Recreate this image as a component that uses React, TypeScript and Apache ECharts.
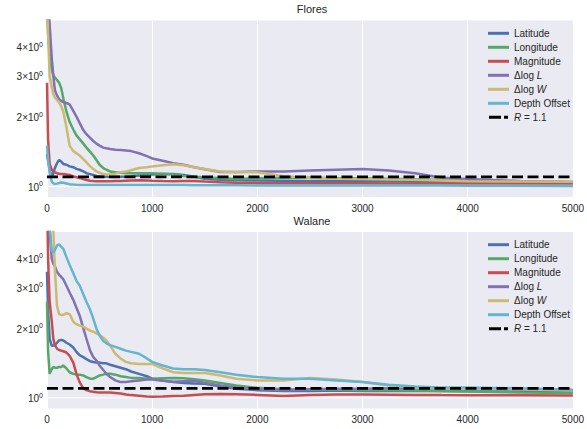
import React, { useEffect, useRef } from 'react';
import * as echarts from 'echarts';

// iteration steps (x)
const steps = [0, 10, 25, 45, 60, 75, 95, 115, 135, 155, 185, 215, 250, 280, 310, 345, 375, 410, 440, 470, 500, 535, 565, 600, 650, 700, 750, 800, 875, 950, 1000, 1100, 1200, 1300, 1400, 1500, 1650, 1800, 2000, 2250, 2500, 2750, 3000, 3250, 3500, 3750, 4000, 4500, 5000];

// Flores panel (R statistic)
const floresLatitude = [1.38, 1.3, 1.18, 1.09, 1.14, 1.2, 1.26, 1.3, 1.28, 1.25, 1.24, 1.22, 1.21, 1.19, 1.18, 1.16, 1.14, 1.13, 1.12, 1.11, 1.105, 1.1, 1.1, 1.1, 1.1, 1.1, 1.1, 1.105, 1.115, 1.12, 1.125, 1.13, 1.13, 1.12, 1.1, 1.08, 1.068, 1.062, 1.06, 1.058, 1.056, 1.055, 1.054, 1.052, 1.05, 1.049, 1.048, 1.046, 1.045];
const floresLongitude = [6, 4.6, 3.7, 3.2, 3.02, 2.95, 2.88, 2.8, 2.66, 2.4, 2.1, 1.9, 1.76, 1.66, 1.6, 1.53, 1.47, 1.41, 1.36, 1.3, 1.24, 1.2, 1.18, 1.16, 1.15, 1.145, 1.14, 1.14, 1.14, 1.14, 1.14, 1.135, 1.125, 1.11, 1.1, 1.095, 1.085, 1.075, 1.085, 1.09, 1.09, 1.085, 1.085, 1.08, 1.074, 1.065, 1.055, 1.048, 1.043];
const floresMagnitude = [2.8, 1.6, 1.25, 1.18, 1.16, 1.15, 1.14, 1.135, 1.13, 1.13, 1.125, 1.12, 1.105, 1.095, 1.088, 1.075, 1.065, 1.058, 1.054, 1.052, 1.052, 1.052, 1.052, 1.052, 1.054, 1.056, 1.058, 1.06, 1.062, 1.06, 1.058, 1.055, 1.053, 1.055, 1.056, 1.05, 1.042, 1.036, 1.033, 1.032, 1.032, 1.031, 1.031, 1.03, 1.03, 1.03, 1.03, 1.03, 1.03];
const floresDeltaLogL = [8, 6.5, 5.0, 3.6, 3.0, 2.6, 2.47, 2.38, 2.34, 2.31, 2.29, 2.26, 2.12, 2.0, 1.88, 1.75, 1.68, 1.62, 1.57, 1.53, 1.5, 1.47, 1.46, 1.45, 1.44, 1.435, 1.43, 1.42, 1.39, 1.35, 1.32, 1.29, 1.26, 1.24, 1.21, 1.185, 1.155, 1.155, 1.16, 1.16, 1.17, 1.18, 1.19, 1.17, 1.14, 1.09, 1.075, 1.055, 1.043];
const floresDeltaLogW = [7, 4.5, 3.0, 2.7, 2.5, 2.42, 2.36, 2.3, 2.22, 2.1, 1.8, 1.5, 1.42, 1.39, 1.36, 1.31, 1.27, 1.22, 1.19, 1.16, 1.145, 1.13, 1.125, 1.125, 1.135, 1.15, 1.16, 1.175, 1.2, 1.21, 1.22, 1.235, 1.245, 1.235, 1.21, 1.19, 1.16, 1.15, 1.15, 1.105, 1.09, 1.08, 1.076, 1.072, 1.068, 1.06, 1.052, 1.05, 1.048];
const floresDepthOffset = [1.5, 1.3, 1.15, 1.05, 1.03, 1.025, 1.028, 1.035, 1.04, 1.038, 1.03, 1.022, 1.018, 1.016, 1.015, 1.015, 1.015, 1.015, 1.015, 1.015, 1.015, 1.015, 1.015, 1.015, 1.015, 1.015, 1.015, 1.015, 1.015, 1.015, 1.014, 1.014, 1.013, 1.013, 1.012, 1.012, 1.011, 1.011, 1.01, 1.01, 1.01, 1.009, 1.009, 1.008, 1.008, 1.008, 1.007, 1.006, 1.005];

// Walane panel
const walaneLatitude = [3.5, 2.4, 1.8, 1.68, 1.68, 1.69, 1.73, 1.77, 1.78, 1.77, 1.73, 1.7, 1.65, 1.58, 1.53, 1.5, 1.47, 1.44, 1.43, 1.42, 1.42, 1.41, 1.41, 1.39, 1.37, 1.35, 1.33, 1.3, 1.27, 1.24, 1.21, 1.19, 1.17, 1.16, 1.155, 1.15, 1.12, 1.095, 1.08, 1.07, 1.07, 1.075, 1.07, 1.07, 1.07, 1.07, 1.068, 1.066, 1.065];
const walaneLongitude = [2.6, 1.6, 1.27, 1.33, 1.36, 1.35, 1.35, 1.36, 1.36, 1.38, 1.34, 1.29, 1.27, 1.26, 1.26, 1.25, 1.23, 1.21, 1.21, 1.23, 1.25, 1.26, 1.27, 1.27, 1.26, 1.24, 1.23, 1.22, 1.22, 1.21, 1.21, 1.215, 1.22, 1.215, 1.205, 1.19, 1.16, 1.13, 1.105, 1.09, 1.085, 1.085, 1.08, 1.078, 1.075, 1.07, 1.065, 1.055, 1.05];
const walaneMagnitude = [8, 4.0, 2.6, 2.15, 1.8, 1.69, 1.63, 1.61, 1.6, 1.59, 1.57, 1.52, 1.42, 1.27, 1.17, 1.1, 1.08, 1.068, 1.062, 1.058, 1.056, 1.055, 1.055, 1.055, 1.05, 1.045, 1.035, 1.028, 1.022, 1.015, 1.012, 1.013, 1.018, 1.022, 1.03, 1.038, 1.04, 1.038, 1.03, 1.02, 1.03, 1.035, 1.035, 1.033, 1.03, 1.028, 1.027, 1.026, 1.025];
const walaneDeltaLogL = [9, 7, 5.2, 4.0, 3.8, 3.7, 3.5, 3.4, 3.33, 3.25, 3.05, 2.85, 2.65, 2.45, 2.27, 2.0, 1.8, 1.6, 1.5, 1.45, 1.38, 1.32, 1.27, 1.23, 1.19, 1.17, 1.17, 1.18, 1.19, 1.2, 1.2, 1.185, 1.175, 1.18, 1.185, 1.16, 1.13, 1.11, 1.09, 1.08, 1.09, 1.095, 1.095, 1.1, 1.1, 1.1, 1.1, 1.09, 1.08];
const walaneDeltaLogW = [9, 8.5, 8, 6.5, 5.4, 3.6, 2.5, 2.3, 2.28, 2.28, 2.32, 2.3, 2.13, 2.08, 2.05, 2.03, 1.99, 1.95, 1.93, 1.9, 1.87, 1.82, 1.77, 1.68, 1.55, 1.48, 1.43, 1.41, 1.4, 1.4, 1.4, 1.34, 1.29, 1.28, 1.28, 1.28, 1.25, 1.21, 1.19, 1.19, 1.22, 1.2, 1.17, 1.13, 1.11, 1.1, 1.1, 1.09, 1.077];
const walaneDepthOffset = [8, 7, 5.6, 4.3, 4.25, 4.35, 4.55, 4.6, 4.5, 4.4, 4.05, 3.75, 3.45, 3.2, 3.06, 2.8, 2.6, 2.4, 2.2, 1.99, 1.86, 1.76, 1.72, 1.69, 1.66, 1.63, 1.6, 1.58, 1.55, 1.48, 1.43, 1.38, 1.34, 1.33, 1.33, 1.32, 1.29, 1.26, 1.23, 1.21, 1.21, 1.19, 1.17, 1.14, 1.12, 1.11, 1.11, 1.1, 1.085];

const panelTitles = ['Flores', 'Walane'];
const seriesNames = ['Latitude', 'Longitude', 'Magnitude', 'ΔlogL', 'ΔlogW', 'Depth Offset'];
const seriesColors = ['#4C72B0', '#55A868', '#C44E52', '#8172B2', '#CCB974', '#64B5CD'];
const thresholdName = 'R = 1.1';
const thresholdValue = 1.1;
const yTickValues = [1, 2, 3, 4];
const xTickInterval = 1000;
const xMax = 5000;

const panels = [
  [floresLatitude, floresLongitude, floresMagnitude, floresDeltaLogL, floresDeltaLogW, floresDepthOffset],
  [walaneLatitude, walaneLongitude, walaneMagnitude, walaneDeltaLogL, walaneDeltaLogW, walaneDepthOffset],
];

const FONT = '"Liberation Sans", Arial, "DejaVu Sans", sans-serif';
const TEXT = '#262626';
const BG = '#EAEAF2';
const LOG_MIN = Math.log10(0.9);
const LOG_MAX = Math.log10(5.2);

const gridTops = [20.5, 232];
const gridHeight = 176.5;

function buildOption() {
  const grids = gridTops.map((top) => ({
    left: 47, right: 10, top, height: gridHeight,
    show: true, backgroundColor: BG, borderWidth: 0,
  }));
  const xAxes = gridTops.map((_, i) => ({
    type: 'value', gridIndex: i, min: 0, max: xMax, interval: xTickInterval,
    axisLine: { show: false }, axisTick: { show: false },
    splitLine: { show: true, lineStyle: { color: '#ffffff', width: 1 } },
    axisLabel: { color: TEXT, fontSize: 10, fontFamily: FONT, margin: 6, formatter: (v: number) => String(v) },
  }));
  const yAxes = gridTops.map((_, i) => ({
    type: 'value', gridIndex: i, min: LOG_MIN, max: LOG_MAX,
    axisLine: { show: false }, axisTick: { show: false }, splitLine: { show: false },
    axisLabel: {
      customValues: yTickValues.map((v) => Math.log10(v)),
      margin: 4,
      color: TEXT,
      fontFamily: FONT,
      formatter: (v: number) => {
        const n = Math.round(Math.pow(10, v));
        return n === 1 ? '{b|10}{s|0}' : `{b|${n}×10}{s|0}`;
      },
      rich: {
        b: { fontSize: 10, lineHeight: 12, color: TEXT, fontFamily: FONT, verticalAlign: 'bottom' },
        s: { fontSize: 7, lineHeight: 6, color: TEXT, fontFamily: FONT, verticalAlign: 'top' },
      },
    },
  }));

  const series: any[] = [];
  panels.forEach((panel, pi) => {
    series.push({
      name: '_baseline', type: 'line', xAxisIndex: pi, yAxisIndex: pi, z: 1, silent: true,
      symbol: 'none', data: [[0, Math.log10(1)], [xMax, Math.log10(1)]],
      lineStyle: { color: '#ffffff', width: 1 }, color: '#ffffff',
    });
    panel.forEach((vals, si) => {
      series.push({
        name: seriesNames[si], type: 'line', xAxisIndex: pi, yAxisIndex: pi,
        symbol: 'none', showSymbol: false, color: seriesColors[si],
        lineStyle: { width: 2.5, color: seriesColors[si] },
        data: steps.map((x, k) => [x, Math.log10(vals[k])]),
        clip: true,
      });
    });
    series.push({
      name: thresholdName, type: 'line', xAxisIndex: pi, yAxisIndex: pi,
      symbol: 'none', color: '#000000',
      lineStyle: { width: 2.8, color: '#000000', type: [11, 4.5] },
      data: [[0, Math.log10(thresholdValue)], [xMax, Math.log10(thresholdValue)]],
    });
  });

  const legendNames = [...seriesNames, thresholdName];
  const legends = [26.3, 237.7].map((top) => ({
    orient: 'vertical', left: 488, top, padding: 0, itemGap: 0,
    itemWidth: 21, itemHeight: 3, selectedMode: false,
    data: legendNames.map((n) => ({
      name: n,
      icon: n === thresholdName ? 'path://M0,0h12v3h-12z M15,0h4v3h-4z' : 'rect',
    })),
    formatter: (name: string) => {
      if (name === 'ΔlogL') return 'Δlog {i|L}';
      if (name === 'ΔlogW') return 'Δlog {i|W}';
      if (name === thresholdName) return '{i|R} = 1.1';
      return name;
    },
    textStyle: {
      fontSize: 10, lineHeight: 14, color: TEXT, fontFamily: FONT,
      rich: { i: { fontStyle: 'italic', fontSize: 10, lineHeight: 14, color: TEXT, fontFamily: FONT } },
    },
  }));

  const graphic = panelTitles.map((t, i) => ({
    type: 'text', x: 312, y: i === 0 ? 9 : 221,
    style: { text: t, fill: TEXT, fontSize: 11, fontFamily: FONT, textAlign: 'center', textVerticalAlign: 'middle' },
  }));

  return {
    animation: false,
    backgroundColor: '#ffffff',
    grid: grids,
    xAxis: xAxes,
    yAxis: yAxes,
    legend: legends,
    series,
    graphic,
  };
}

export default function App() {
  const ref = useRef<HTMLDivElement>(null);
  useEffect(() => {
    if (!ref.current) return;
    const chart = echarts.init(ref.current, undefined, { renderer: 'svg' });
    chart.setOption(buildOption() as any);
    return () => chart.dispose();
  }, []);
  return (
    <div
      ref={ref}
      style={{ position: 'absolute', left: 0, top: 0, width: 587, height: 429 }}
    />
  );
}
